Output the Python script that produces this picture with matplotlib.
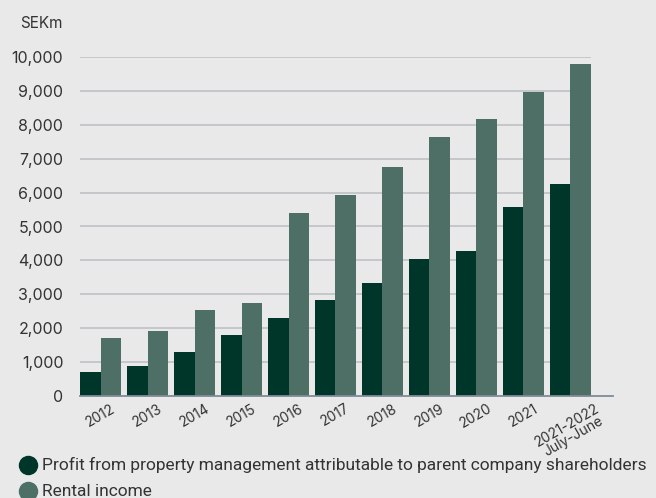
import matplotlib.pyplot as plt
import numpy as np

years = ["2012", "2013", "2014", "2015", "2016", "2017", "2018", "2019",
         "2020", "2021", "2021-2022\nJuly-June"]
profit = [710, 885, 1300, 1800, 2300, 2830, 3330, 4040, 4280, 5580, 6250]
rental = [1700, 1920, 2540, 2740, 5400, 5930, 6750, 7640, 8170, 8970, 9800]
yticks = [0, 1000, 2000, 3000, 4000, 5000, 6000, 7000, 8000, 9000, 10000]

bg = "#e9e9e9"
dark = "#00352a"
light = "#4e6f66"
txt = "#333333"

plt.rcParams['font.family'] = ['Inter', 'DejaVu Sans']

fig = plt.figure(figsize=(6.56, 4.98), dpi=100, facecolor=bg)
ax = fig.add_axes([80 / 656, 1 - 396 / 498, 533 / 656, 339 / 498])
ax.set_facecolor(bg)

x = np.arange(len(years))
w = 0.44
ax.bar(x - w, profit, width=w, align="edge", color=dark, zorder=3)
ax.bar(x, rental, width=w, align="edge", color=light, zorder=3)

ax.set_xlim(-w, -w + 533 / 46.96)
ax.set_ylim(0, 10000)

# gridlines only under the bars
for v in yticks[1:]:
    ax.hlines(v, -w - 0.05, x[-1] + w, color="#c6c7ca", linewidth=1.4, zorder=1)

for s in ["top", "right", "left"]:
    ax.spines[s].set_visible(False)
ax.spines["bottom"].set_color("#7f8b96")
ax.spines["bottom"].set_linewidth(1.3)
ax.spines["bottom"].set_zorder(4)

ax.set_yticks(yticks)
ax.set_yticklabels([f"{v:,}" for v in yticks], fontsize=11.5, color=txt)
ax.tick_params(axis="y", length=0, pad=12)
ax.set_xticks(x)
ax.set_xticklabels(years, rotation=30, ha="center", fontsize=10, color=txt,
                   linespacing=0.85)
ax.tick_params(axis="x", length=0, pad=4)

fig.text(20 / 656, 1 - 23 / 498, "SEKm", fontsize=11, color=txt, va="center")

# legend
items = [(dark, "Profit from property management attributable to parent company shareholders"),
         (light, "Rental income")]
for i, (c, lab) in enumerate(items):
    yy = 1 - (465 + 26 * i) / 498
    fig.lines.append(plt.Line2D([28 / 656], [yy], marker="o", markersize=13,
                                color=c, transform=fig.transFigure))
    fig.text(42 / 656, yy, lab, fontsize=12.5, color=txt, va="center",
             family=["Roboto", "DejaVu Sans"])

fig.savefig("out.png", dpi=100, facecolor=bg)
